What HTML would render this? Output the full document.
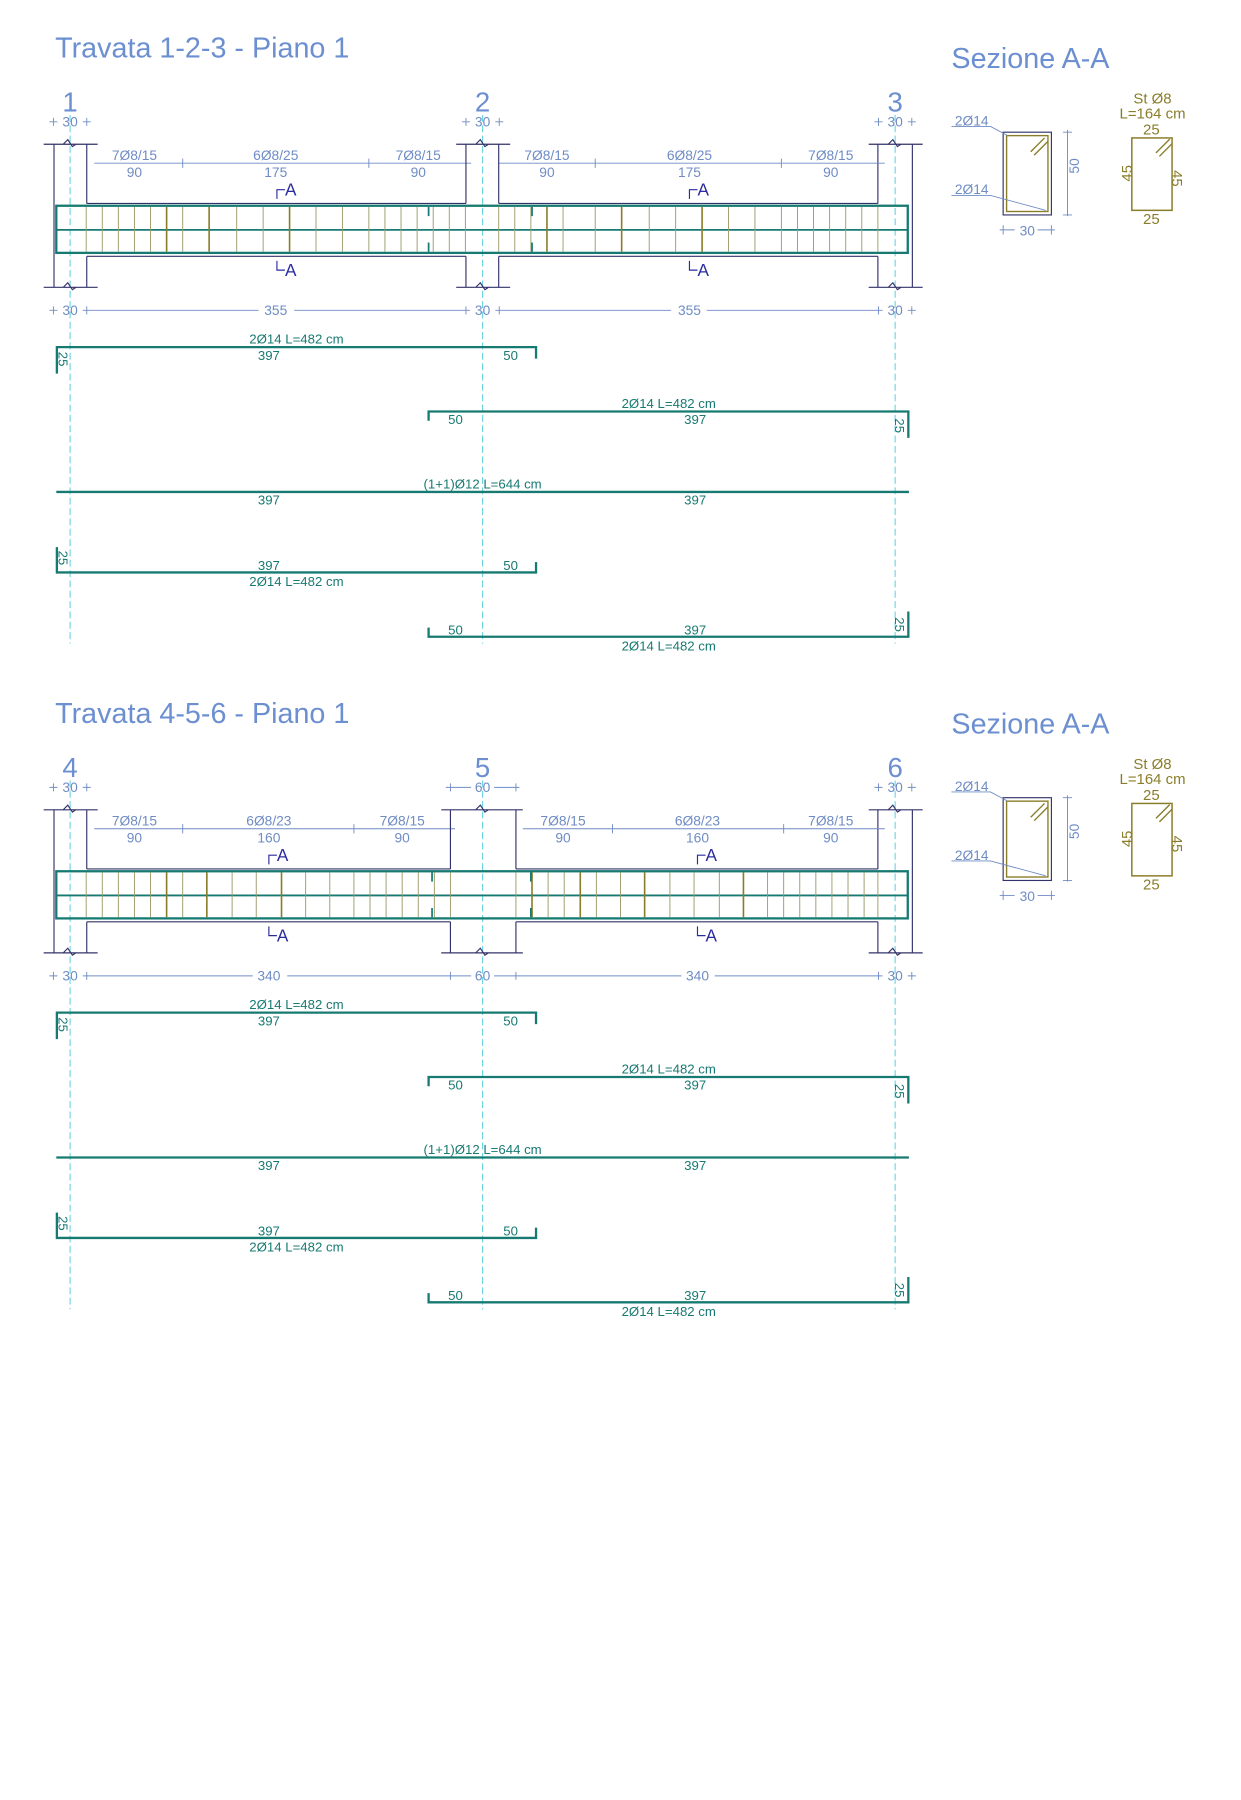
<!DOCTYPE html>
<html><head><meta charset="utf-8"><style>
html,body{margin:0;padding:0;background:#fff}
svg{display:block}
text{font-family:"Liberation Sans",sans-serif}
.t{fill:#6b8fd0;font-size:25px}
.ax{fill:#6b8fd0;font-size:24px}
.d{fill:#6f8cc4;font-size:12px}
.b{fill:#177a72;font-size:11.5px}
.o{fill:#8a7d2a;font-size:13px}
.a{fill:#2b2ba0;font-size:15px}
</style></head><body>
<svg width="1241" height="1800" viewBox="0 0 1080 1566" preserveAspectRatio="none" xmlns="http://www.w3.org/2000/svg">
<defs>
<g id="common">
 <!-- axes -->
 <path d="M61 100V560M420 100V560M779 100V560" stroke="#5fd0e0" stroke-width="0.9" stroke-dasharray="6,3" fill="none"/>
 <!-- outer columns -->
 <path d="M38 125.5H85M38 250H85M47 125.5V250M75.5 125.5V177M75.5 223V250M55 125.5l4-4l4 6l3-2M55 250l4-4l4 6l3-2" stroke="#33336a" stroke-width="1" fill="none"/>
 <path d="M756 125.5H803M756 250H803M794 125.5V250M764 125.5V177M764 223V250M773 125.5l4-4l4 6l3-2M773 250l4-4l4 6l3-2" stroke="#33336a" stroke-width="1" fill="none"/>
 <!-- beam body -->
 <rect x="49" y="179" width="741" height="41" fill="none" stroke="#177a72" stroke-width="2"/>
 <path d="M49 200H790" stroke="#177a72" stroke-width="1.6"/>
 <!-- bars -->
 <g stroke="#177a72" stroke-width="2" fill="none">
 <path d="M49.5 325V302H466.5V312"/>
 <path d="M373 366V358H790.5V381"/>
 <path d="M49 428H791"/>
 <path d="M49.5 476V498H466.5V489"/>
 <path d="M373 546V554H790.5V532"/>
 </g>
 <text class="b" x="49" y="320" transform="rotate(90 57 314)" >25</text>
 <text class="b" x="438" y="313">50</text>
 <text class="b" x="390" y="369">50</text>
 <text class="b" x="779" y="376" transform="rotate(90 785 370)">25</text>
 <text class="b" x="49" y="493" transform="rotate(90 57 487)">25</text>
 <text class="b" x="438" y="496">50</text>
 <text class="b" x="390" y="552">50</text>
 <text class="b" x="779" y="549" transform="rotate(90 785 543)">25</text>
 <text class="b" x="234" y="313" text-anchor="middle">397</text>
 <text class="b" x="605" y="369" text-anchor="middle">397</text>
 <text class="b" x="234" y="439" text-anchor="middle">397</text>
 <text class="b" x="605" y="439" text-anchor="middle">397</text>
 <text class="b" x="234" y="496" text-anchor="middle">397</text>
 <text class="b" x="605" y="552" text-anchor="middle">397</text>
 <text class="b" x="258" y="299" text-anchor="middle">2Ø14 L=482 cm</text>
 <text class="b" x="582" y="355" text-anchor="middle">2Ø14 L=482 cm</text>
 <text class="b" x="420" y="425" text-anchor="middle">(1+1)Ø12 L=644 cm</text>
 <text class="b" x="258" y="510" text-anchor="middle">2Ø14 L=482 cm</text>
 <text class="b" x="582" y="566" text-anchor="middle">2Ø14 L=482 cm</text>
 <!-- section -->
 <rect x="873" y="115" width="42" height="72" fill="none" stroke="#33336a" stroke-width="1"/>
 <rect x="876" y="118" width="36" height="66" fill="none" stroke="#8a7d2a" stroke-width="1.2"/>
 <path d="M897 132l12-12M900 135l12-12" stroke="#8a7d2a" stroke-width="1.2"/>
 <path d="M828 110H862L877 118M828 170H862L910 183" stroke="#6f8cc4" stroke-width="0.8" fill="none"/>
 <text class="d" x="831" y="109">2Ø14</text>
 <text class="d" x="831" y="169">2Ø14</text>
 <path d="M929 113V188M925 115H933M925 187H933M870 200H883M903 200H918M873 196V204M915 196V204" stroke="#6f8cc4" stroke-width="0.8"/>
 <text class="d" x="933" y="157" transform="rotate(-90 933 151)">50</text>
 <text class="d" x="894" y="205" text-anchor="middle">30</text>
 <rect x="985" y="120" width="35" height="63" fill="none" stroke="#8a7d2a" stroke-width="1.3"/>
 <path d="M1006 133l12-12M1009 136l11-11" stroke="#8a7d2a" stroke-width="1.2"/>
 <text class="o" x="1003" y="90" text-anchor="middle" font-size="15">St Ø8</text>
 <text class="o" x="1003" y="103" text-anchor="middle" font-size="15">L=164 cm</text>
 <text class="o" x="1002" y="117" text-anchor="middle" font-size="12">25</text>
 <text class="o" x="1002" y="195" text-anchor="middle" font-size="12">25</text>
 <text class="o" x="973" y="158" transform="rotate(-90 979 152)" font-size="12">45</text>
 <text class="o" x="1022" y="158" transform="rotate(90 1026 152)" font-size="12">45</text>
 <text class="t" x="828" y="59">Sezione A-A</text>
 <!-- axis labels -->
 <text class="ax" x="61" y="97" text-anchor="middle"> </text>
</g>
<g id="secA">
 <path d="M0 0V-8H7" stroke="#2b2ba0" fill="none" stroke-width="1"/>
</g>
</defs>

<!-- ============ BEAM 1 ============ -->
<use href="#common"/>
<text class="t" x="48" y="50">Travata 1-2-3 - Piano 1</text>
<text class="ax" x="61" y="97" text-anchor="middle">1</text>
<text class="ax" x="420" y="97" text-anchor="middle">2</text>
<text class="ax" x="779" y="97" text-anchor="middle">3</text>
<g stroke="#6f8cc4" stroke-width="0.8" fill="none">
 <path d="M43 106h7M46.5 102.5v7M72 106h7M75.5 102.5v7M402 106h7M405.5 102.5v7M431 106h7M434.5 102.5v7M761 106h7M764.5 102.5v7M790 106h7M793.5 102.5v7"/>
 <path d="M43 270h7M46.5 266.5v7M72 270h7M75.5 266.5v7M75.5 270H225M256 270H405M402 270h7M405.5 266.5v7M431 270h7M434.5 266.5v7M434.5 270H584M615 270H764M761 270h7M764.5 266.5v7M790 270h7M793.5 266.5v7"/>
 <path d="M82 142H410M434 142H770M159 138v8M321 138v8M518 138v8M680 138v8"/>
</g>
<g class="d" text-anchor="middle">
 <text x="61" y="110">30</text><text x="420" y="110">30</text><text x="779" y="110">30</text>
 <text x="61" y="274">30</text><text x="240" y="274">355</text><text x="420" y="274">30</text><text x="600" y="274">355</text><text x="779" y="274">30</text>
 <text x="117" y="139">7Ø8/15</text><text x="240" y="139">6Ø8/25</text><text x="364" y="139">7Ø8/15</text>
 <text x="117" y="154">90</text><text x="240" y="154">175</text><text x="364" y="154">90</text>
 <text x="476" y="139">7Ø8/15</text><text x="600" y="139">6Ø8/25</text><text x="723" y="139">7Ø8/15</text>
 <text x="476" y="154">90</text><text x="600" y="154">175</text><text x="723" y="154">90</text>
</g>
<!-- column 2 -->
<path d="M397 125.5H444M397 250H444M405.5 125.5V177M405.5 223V250M434 125.5V177M434 223V250M414 125.5l4-4l4 6l3-2M414 250l4-4l4 6l3-2" stroke="#33336a" stroke-width="1" fill="none"/>
<path d="M75.5 177H405.5M434 177H764M75.5 223H405.5M434 223H764" stroke="#33336a" stroke-width="1"/>
<path d="M75 180v39M89 180v39M103 180v39M117 180v39M131 180v39M159 180v39M206 180v39M229 180v39M275 180v39M298 180v39M321 180v39M335 180v39M349 180v39M363 180v39M377 180v39M391 180v39M405 180v39M434 180v39M448 180v39M462 180v39M490 180v39M518 180v39M565 180v39M588 180v39M634 180v39M657 180v39M680 180v39M694 180v39M708 180v39M722 180v39M736 180v39M750 180v39M764 180v39" stroke="#9a9a6a" stroke-width="0.8"/>
<path d="M145 180v39M182 180v39M252 180v39M476 180v39M541 180v39M611 180v39" stroke="#8a7d2a" stroke-width="1.4"/>
<path d="M373 180v8M373 211v8M463 180v8M463 211v8" stroke="#177a72" stroke-width="1.5"/>
<path d="M241 173v-8h7M241 227v8h7M600 173v-8h7M600 227v8h7" stroke="#2b2ba0" fill="none" stroke-width="1"/>
<g class="a"><text x="248" y="170">A</text><text x="248" y="240">A</text><text x="607" y="170">A</text><text x="607" y="240">A</text></g>

<!-- ============ BEAM 2 ============ -->
<g transform="translate(0,579)">
<use href="#common"/>
<rect x="440" y="95" width="40" height="40" fill="#fff"/>
<text class="t" x="48" y="50">Travata 4-5-6 - Piano 1</text>
<text class="ax" x="61" y="97" text-anchor="middle">4</text>
<text class="ax" x="420" y="97" text-anchor="middle">5</text>
<text class="ax" x="779" y="97" text-anchor="middle">6</text>
<g stroke="#6f8cc4" stroke-width="0.8" fill="none">
 <path d="M43 106h7M46.5 102.5v7M72 106h7M75.5 102.5v7M388 106h7M392 102.5v7M392 106H410M430 106H449M445 106h7M449 102.5v7M761 106h7M764.5 102.5v7M790 106h7M793.5 102.5v7"/>
 <path d="M43 270h7M46.5 266.5v7M72 270h7M75.5 266.5v7M75.5 270H220M250 270H392M392 266.5v7M392 270H410M430 270H449M449 266.5v7M449 270H593M622 270H764M761 270h7M764.5 266.5v7M790 270h7M793.5 266.5v7"/>
 <path d="M82 142H396M455 142H770M159 138v8M308 138v8M533 138v8M682 138v8"/>
</g>
<g class="d" text-anchor="middle">
 <text x="61" y="110">30</text><text x="420" y="110">60</text><text x="779" y="110">30</text>
 <text x="61" y="274">30</text><text x="234" y="274">340</text><text x="420" y="274">60</text><text x="607" y="274">340</text><text x="779" y="274">30</text>
 <text x="117" y="139">7Ø8/15</text><text x="234" y="139">6Ø8/23</text><text x="350" y="139">7Ø8/15</text>
 <text x="117" y="154">90</text><text x="234" y="154">160</text><text x="350" y="154">90</text>
 <text x="490" y="139">7Ø8/15</text><text x="607" y="139">6Ø8/23</text><text x="723" y="139">7Ø8/15</text>
 <text x="490" y="154">90</text><text x="607" y="154">160</text><text x="723" y="154">90</text>
</g>
<path d="M384 125.5H455M384 250H455M392 125.5V177M392 223V250M449 125.5V177M449 223V250M414 125.5l4-4l4 6l3-2M414 250l4-4l4 6l3-2" stroke="#33336a" stroke-width="1" fill="none"/>
<path d="M75.5 177H392M449 177H764M75.5 223H392M449 223H764" stroke="#33336a" stroke-width="1"/>
<path d="M75 180v39M89 180v39M103 180v39M117 180v39M131 180v39M159 180v39M202 180v39M223 180v39M266 180v39M287 180v39M308 180v39M322 180v39M336 180v39M350 180v39M364 180v39M378 180v39M392 180v39M449 180v39M477 180v39M491 180v39M519 180v39M540 180v39M583 180v39M604 180v39M626 180v39M668 180v39M682 180v39M696 180v39M710 180v39M724 180v39M738 180v39M752 180v39M764 180v39" stroke="#9a9a6a" stroke-width="0.8"/>
<path d="M145 180v39M180 180v39M245 180v39M463 180v39M505 180v39M561 180v39M647 180v39" stroke="#8a7d2a" stroke-width="1.4"/>
<path d="M376 180v8M376 211v8M462 180v8M462 211v8" stroke="#177a72" stroke-width="1.5"/>
<path d="M234 173v-8h7M234 227v8h7M607 173v-8h7M607 227v8h7" stroke="#2b2ba0" fill="none" stroke-width="1"/>
<g class="a"><text x="241" y="170">A</text><text x="241" y="240">A</text><text x="614" y="170">A</text><text x="614" y="240">A</text></g>
</g>
</svg>
</body></html>
